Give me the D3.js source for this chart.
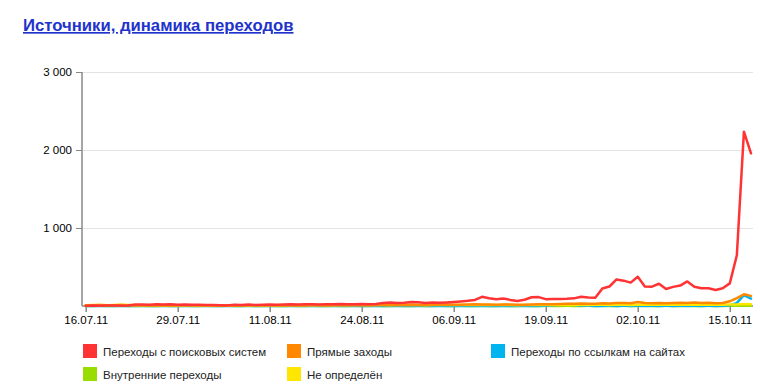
<!DOCTYPE html>
<html><head><meta charset="utf-8">
<script src="https://cdn.jsdelivr.net/npm/d3@7"></script>
<style>
body{margin:0;background:#fff;}
svg{display:block;font-family:Arial,"Liberation Sans",sans-serif;}
</style></head>
<body><svg id="c" width="773" height="390"></svg>
<script>
const title = "Источники, динамика переходов";
const startDate = "2011-07-16";
const tickLabels = ["16.07.11","29.07.11","11.08.11","24.08.11","06.09.11","19.09.11","02.10.11","15.10.11"];
const yTicks = [1000, 2000, 3000];
const seriesNames = ["Переходы с поисковых систем","Прямые заходы","Переходы по ссылкам на сайтах","Внутренние переходы","Не определён"];
const seriesColors = ["#ff3333","#ff8800","#00b4f0","#99dd00","#ffe600"];

const searchVals = [4,6,3,5,8,4,6, 18,20,17,22,19,21,16, 18,15,17,12,14,10,8, 15,12,18,14,16,20,17,
  19,22,18,21,24,20,23, 22,25,21,24,27,23,26, 40,45,38,42,52,48,40,44,
  42,45,50,57,66,78,118,100, 88,95,78,64,80,112,114,88, 90,90,92,98,118,110,105,
  225,250,340,325,300,375,250, 248,285,218,245,262,315,248, 228,228,205,228,290,650,2235,1958];
const directVals = [8,10,12,9,11,14,10, 8,6,9,7,5,8,6, 7,9,6,8,5,7,9, 6,8,7,9,6,8,7,
  9,8,10,7,9,11,8, 10,12,9,11,13,10,12, 14,12,15,13,16,14,12,15,
  16,18,15,17,19,22,20,18, 16,20,18,15,17,20,22,24, 22,25,28,30,32,28,30,
  35,32,38,40,35,52,38, 36,40,35,38,42,40,45, 38,42,36,38,60,100,150,130];
const linkVals = [1,0,1,0,1,0,1, 0,1,0,1,0,1,0, 1,0,1,0,1,0,1, 0,1,0,1,0,1,0,
  1,0,1,0,1,0,1, 0,1,0,1,0,1,0, 1,0,1,0,1,0,1,0,
  1,0,1,0,1,0,1,0, 1,0,1,0,1,0,1,2, 8,12,18,14,6,2,1,
  1,2,1,2,1,2,1, 2,1,2,1,2,1,2, 1,2,1,2,8,40,140,95];
const internalVals = [1,1,2,1,1,2,1, 1,2,1,1,2,1,1, 2,1,1,2,1,1,2, 1,1,2,1,1,2,1,
  1,2,1,1,2,1,1, 2,1,1,2,1,1,2, 1,1,2,1,1,2,1,1,
  2,1,1,2,1,1,2,1, 1,2,1,1,2,1,1,2, 1,1,2,1,1,2,1,
  2,1,1,2,1,1,2, 1,1,2,1,1,2,1, 1,2,1,1,2,3,5,4];
const unknownVals = [10,12,14,11,13,15,12, 10,9,11,8,7,9,8, 9,10,8,9,7,8,10, 8,9,8,10,8,9,8,
  10,9,11,9,10,12,9, 11,12,10,12,13,11,12, 12,11,13,12,13,12,11,12,
  12,13,12,13,14,13,12,13, 12,13,12,11,12,13,14,14, 13,14,15,14,15,14,15,
  15,14,16,15,14,16,15, 15,16,15,16,15,16,17, 16,17,16,17,18,20,25,22];

const drawOrder = [3,2,4,1,0];
const allVals = [searchVals, directVals, linkVals, internalVals, unknownVals];

(function(){
const parse = d3.timeParse("%Y-%m-%d");
const t0 = parse(startDate);
const dates = searchVals.map((_, i) => d3.timeDay.offset(t0, i));
const fmtIn = d3.timeParse("%d.%m.%y");

const svg = d3.select("#c");
const pL = 82, pR = 753, pT = 72, pB = 306;
const FF = "Arial,'Liberation Sans',sans-serif";

const x = d3.scaleTime().domain([t0, dates[dates.length-1]]).range([85.7, 751]);
const y = d3.scaleLinear().domain([0, 3000]).range([pB, pT]);

svg.append("text").attr("x", 23).attr("y", 31)
  .attr("font-size", 16.7).attr("font-weight", "bold").attr("fill", "#2233cc")
  .attr("text-decoration", "underline").text(title);

svg.append("g").selectAll("line").data(yTicks).join("line")
  .attr("x1", pL).attr("x2", pR).attr("y1", d => y(d)).attr("y2", d => y(d))
  .attr("stroke", "#e3e3e3").attr("stroke-width", 1).attr("shape-rendering","crispEdges");

const yAxis = d3.axisLeft(y).tickValues(yTicks).tickSize(6).tickPadding(4)
  .tickFormat(d => d3.format(",")(d).replace(/,/g, " "));
const gy = svg.append("g").attr("transform", `translate(${pL},0)`).call(yAxis);
gy.select(".domain").remove();
gy.selectAll("line").attr("stroke", "#888").attr("shape-rendering","crispEdges");
gy.selectAll("text").attr("font-size", 11.5).attr("fill", "#000").attr("font-family", FF);
svg.append("line").attr("x1", pL).attr("x2", pL).attr("y1", pT).attr("y2", pB)
  .attr("stroke", "#888").attr("stroke-width", 1.5);

const xAxis = d3.axisBottom(x).tickValues(tickLabels.map(s => fmtIn(s))).tickSize(6).tickPadding(4)
  .tickFormat(d3.timeFormat("%d.%m.%y"));
const gx = svg.append("g").attr("transform", `translate(0,${pB})`).call(xAxis);
gx.select(".domain").remove();
gx.selectAll("line").attr("stroke", "#888").attr("stroke-width", 1.5);
gx.selectAll("text").attr("font-size", 11.5).attr("fill", "#000").attr("font-family", FF);
svg.append("line").attr("x1", pL).attr("x2", pR).attr("y1", pB).attr("y2", pB)
  .attr("stroke", "#888").attr("stroke-width", 1.5);

const line = d3.line().x((d, i) => x(dates[i])).y(d => y(d));
const gl = svg.append("g");
drawOrder.forEach(k => {
  gl.append("path").datum(allVals[k]).attr("d", line)
    .attr("fill", "none").attr("stroke", seriesColors[k]).attr("stroke-width", 2.5)
    .attr("stroke-linejoin", "round").attr("stroke-linecap", "round");
});

const legendPos = [[83,344],[287,344],[491,344],[83,367],[287,367]];
const lg = svg.append("g");
seriesNames.forEach((name, k) => {
  const [lx, ly] = legendPos[k];
  lg.append("rect").attr("x", lx).attr("y", ly).attr("width", 14).attr("height", 14).attr("fill", seriesColors[k]);
  lg.append("text").attr("x", lx + 20).attr("y", ly + 11.5).attr("font-size", 11.5).attr("fill", "#222").text(name);
});
})();
</script></body></html>
